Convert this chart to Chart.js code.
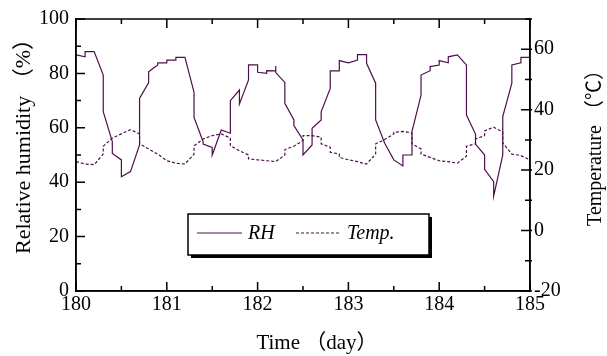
<!DOCTYPE html>
<html>
<head>
<meta charset="utf-8">
<script src="https://cdn.jsdelivr.net/npm/chart.js@4"></script>
<style>
  body { margin: 0; background: #fff; }
  canvas { display: block; }
</style>
</head>
<body>
<canvas id="humChart" width="607" height="356"></canvas>
<script>
// RH (%) vs time (day) - vertices, steps = two points at same x
const rhDay = [180.0, 180.1, 180.1, 180.2, 180.3, 180.3, 180.4, 180.4, 180.5, 180.5,
  180.6, 180.7, 180.7, 180.8, 180.8, 180.85, 180.9, 180.9, 181.0, 181.0,
  181.1, 181.1, 181.2, 181.3, 181.3, 181.4, 181.4, 181.5, 181.5, 181.6,
  181.7, 181.7, 181.8, 181.8, 181.9, 181.9, 182.0, 182.0, 182.1, 182.1,
  182.2, 182.2, 182.2, 182.3, 182.3, 182.4, 182.4, 182.5, 182.5, 182.6,
  182.6, 182.7, 182.7, 182.8, 182.8, 182.9, 182.9, 183.0, 183.1, 183.1,
  183.2, 183.2, 183.3, 183.3, 183.4, 183.5, 183.6, 183.6, 183.7, 183.7,
  183.8, 183.8, 183.9, 183.9, 184.0, 184.0, 184.1, 184.1, 184.2, 184.3,
  184.3, 184.4, 184.4, 184.5, 184.5, 184.6, 184.6, 184.7, 184.7, 184.8,
  184.8, 184.9, 184.9, 185.0];
const rhVal = [86.8, 86.1, 88.0, 88.0, 79.4, 65.9, 54.9, 50.6, 48.2, 42.0,
  43.9, 53.7, 70.8, 76.6, 80.6, 81.9, 83.1, 83.9, 83.9, 84.9,
  84.9, 85.9, 85.9, 73.0, 63.8, 54.9, 54.0, 52.8, 50.0, 59.2,
  58.0, 70.0, 73.9, 68.8, 77.6, 83.1, 83.1, 80.4, 80.0, 81.0,
  80.9, 82.7, 80.3, 76.7, 69.0, 62.9, 60.8, 55.5, 50.0, 53.7,
  59.8, 62.9, 65.9, 74.5, 80.9, 80.9, 84.7, 83.9, 84.9, 86.9,
  86.9, 83.7, 76.4, 62.9, 54.3, 48.2, 46.0, 50.0, 50.0, 58.6,
  72.0, 79.4, 81.0, 82.5, 83.1, 84.7, 83.9, 86.1, 86.8, 83.1,
  64.7, 57.7, 54.0, 50.0, 44.7, 40.2, 34.9, 50.0, 64.1, 76.4,
  83.1, 83.9, 85.9, 85.9];

// Temperature (C)
const tDay = [180.0, 180.1, 180.2, 180.3, 180.3, 180.4, 180.5, 180.6, 180.7, 180.7,
  180.8, 180.9, 181.0, 181.1, 181.2, 181.3, 181.3, 181.4, 181.5, 181.6,
  181.7, 181.7, 181.8, 181.9, 181.9, 182.0, 182.1, 182.2, 182.3, 182.3,
  182.4, 182.5, 182.5, 182.6, 182.7, 182.7, 182.8, 182.8, 182.9, 182.9,
  183.0, 183.1, 183.2, 183.3, 183.3, 183.4, 183.5, 183.5, 183.6, 183.7,
  183.7, 183.8, 183.8, 183.9, 184.0, 184.1, 184.2, 184.3, 184.3, 184.4,
  184.4, 184.5, 184.5, 184.6, 184.7, 184.7, 184.8, 184.9, 185.0];
const tVal = [22.8, 22.0, 21.8, 25.3, 27.9, 30.6, 32.0, 33.4, 32.0, 28.7,
  27.0, 25.3, 23.1, 22.3, 22.0, 25.3, 28.0, 30.3, 31.4, 32.0,
  30.6, 28.1, 26.4, 25.0, 23.7, 23.4, 23.1, 22.8, 25.0, 26.8,
  27.9, 29.8, 31.4, 31.4, 30.9, 28.7, 27.6, 25.9, 25.3, 24.2,
  23.4, 22.8, 22.0, 25.3, 28.7, 30.1, 32.0, 32.5, 32.8, 32.3,
  28.7, 27.0, 25.3, 24.2, 23.1, 22.8, 22.3, 24.6, 27.9, 28.7,
  30.3, 31.4, 33.0, 34.2, 32.6, 29.0, 25.3, 24.8, 23.4];

const seriesNames = ['RH', 'Temp.'];
const xTitle = 'Time （day）';
const yTitles = ['Relative humidity （%）', 'Temperature （℃）'];
const lineColor = '#4d0f4d';
const serif = "'Liberation Serif', 'Times New Roman', 'Noto Sans CJK SC', serif";

// frame, inward ticks, axis titles and boxed legend
const framePlugin = {
  id: 'frame',
  afterDraw(chart) {
    const c = chart.ctx;
    const a = chart.chartArea;
    const sx = chart.scales.x, sy = chart.scales.y, sy1 = chart.scales.y1;
    c.save();
    c.strokeStyle = '#000';
    c.lineWidth = 1.5;
    c.strokeRect(a.left, a.top, a.right - a.left, a.bottom - a.top);

    c.beginPath();
    for (let v = 180; v <= 185.001; v += 0.5) {
      const px = sx.getPixelForValue(v);
      const len = Math.abs(v - Math.round(v)) < 0.01 ? 9 : 5;
      c.moveTo(px, a.bottom); c.lineTo(px, a.bottom - len);
      c.moveTo(px, a.top); c.lineTo(px, a.top + len);
    }
    for (let v = 0; v <= 100; v += 10) {
      const py = sy.getPixelForValue(v);
      const len = v % 20 === 0 ? 9 : 5;
      c.moveTo(a.left, py); c.lineTo(a.left + len, py);
    }
    for (let v = -20; v <= 70; v += 10) {
      const py = sy1.getPixelForValue(v);
      const len = (v + 20) % 20 === 0 ? 9 : 5;
      c.moveTo(a.right + 2, py); c.lineTo(a.right - len, py);
    }
    c.stroke();

    // axis titles
    c.fillStyle = '#000';
    c.textAlign = 'center';
    c.textBaseline = 'middle';
    c.font = "21px " + serif;
    c.fillText(xTitle, 317, 343);
    [[24, 141, 22, yTitles[0]], [596, 143, 20, yTitles[1]]].forEach(([tx, ty, fs, txt]) => {
      c.save();
      c.translate(tx, ty);
      c.rotate(-Math.PI / 2);
      c.font = fs + "px " + serif;
      c.fillText(txt, 0, 0);
      c.restore();
    });
    c.textAlign = 'left';

    // legend box with shadow
    const bx = 188, by = 214, bw = 241, bh = 41;
    c.fillStyle = '#000';
    c.fillRect(bx + 3, by + 3, bw, bh);
    c.fillStyle = '#fff';
    c.fillRect(bx, by, bw, bh);
    c.strokeRect(bx, by, bw, bh);

    const ly = by + 19;
    chart.data.datasets.forEach((ds, i) => {
      const x0 = i === 0 ? 197 : 296;
      c.strokeStyle = ds.borderColor;
      c.lineWidth = 1;
      c.setLineDash(ds.borderDash || []);
      c.beginPath();
      c.moveTo(x0, ly); c.lineTo(x0 + 45, ly);
      c.stroke();
      c.setLineDash([]);
      c.fillStyle = '#000';
      c.font = "italic 20px " + serif;
      c.textBaseline = 'middle';
      c.fillText(ds.label, x0 + 51, ly + 1);
    });
    c.restore();
  }
};

const ctx = document.getElementById('humChart').getContext('2d');
const tickFont = { family: serif, size: 20 };

const chart = new Chart(ctx, {
  type: 'line',
  data: {
    datasets: [{
      label: seriesNames[0],
      data: rhDay.map((d, i) => ({ x: d, y: rhVal[i] })),
      yAxisID: 'y',
      borderColor: lineColor,
      borderWidth: 1.2,
      pointRadius: 0,
      tension: 0,
      fill: false
    }, {
      label: seriesNames[1],
      data: tDay.map((d, i) => ({ x: d, y: tVal[i] })),
      yAxisID: 'y1',
      borderColor: lineColor,
      borderWidth: 1.2,
      borderDash: [3, 2],
      pointRadius: 0,
      tension: 0,
      fill: false
    }]
  },
  options: {
    responsive: false,
    devicePixelRatio: 1,
    animation: false,
    layout: { padding: { top: 19, left: 0, right: 0, bottom: 0 } },
    scales: {
      x: {
        type: 'linear',
        min: 180,
        max: 185,
        grid: { display: false, drawTicks: false },
        border: { display: true, color: '#000', width: 1.5 },
        ticks: { stepSize: 1, color: '#000', font: tickFont, padding: 2 },
        afterFit(scale) { scale.height = 65; }
      },
      y: {
        position: 'left',
        min: 0,
        max: 100,
        grid: { display: false, drawTicks: false },
        border: { display: true, color: '#000', width: 1.5 },
        ticks: { stepSize: 20, color: '#000', font: tickFont, padding: 7 },
        afterFit(scale) { scale.width = 76; }
      },
      y1: {
        position: 'right',
        min: -20,
        max: 70,
        grid: { display: false, drawTicks: false },
        border: { display: true, color: '#000', width: 1.5 },
        ticks: { stepSize: 20, color: '#000', font: tickFont, padding: 4 },
        afterBuildTicks(scale) {
          scale.ticks = scale.ticks.filter(t => t.value <= 60);
        },
        afterFit(scale) { scale.width = 77; }
      }
    },
    plugins: {
      legend: { display: false },
      tooltip: { enabled: false }
    }
  },
  plugins: [framePlugin]
});
</script>
</body>
</html>
